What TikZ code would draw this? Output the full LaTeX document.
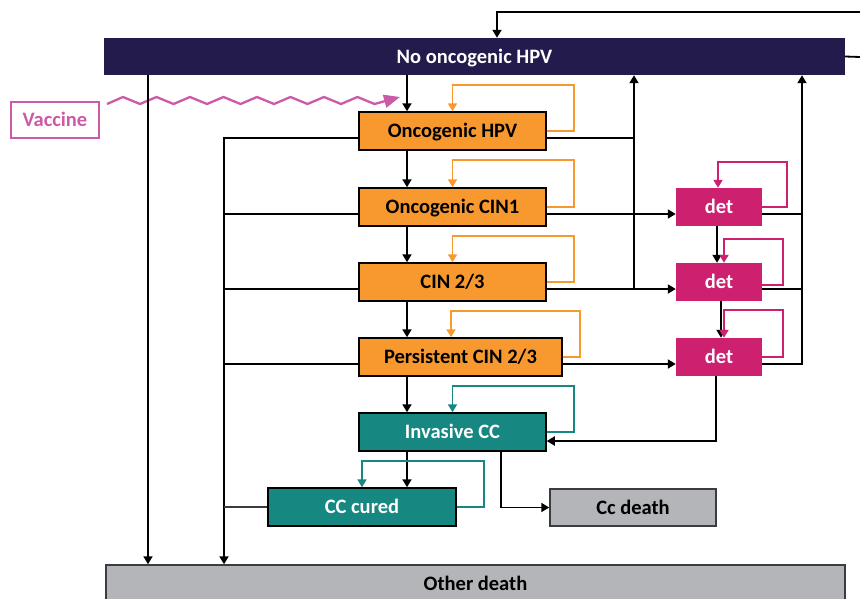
\documentclass[tikz,border=0pt]{standalone}
\usepackage{fontspec}
\setmainfont{Carlito}
\usetikzlibrary{arrows.meta}
\definecolor{navy}{HTML}{221B4B}
\definecolor{hpvorange}{HTML}{F7992F}
\definecolor{ccteal}{HTML}{178782}
\definecolor{detpink}{HTML}{CD2170}
\definecolor{deathgray}{HTML}{B4B5B9}
\definecolor{vacpink}{HTML}{CB5AA7}
\definecolor{edgegray}{HTML}{3A3C40}
\begin{document}
\begin{tikzpicture}[x=1pt,y=-1pt,
  lbl/.style={font=\bfseries\fontsize{20.5}{22}\selectfont,text height=15pt,text depth=2pt},
  box/.style={lbl,draw=black,line width=1.5pt,minimum height=38pt,inner sep=0pt},
  orangebox/.style={box,fill=hpvorange,text=black},
  tealbox/.style={box,fill=ccteal,text=white},
  graybox/.style={box,fill=deathgray,draw=edgegray,text=black},
  detbox/.style={lbl,fill=detpink,text=white,minimum width=86pt,minimum height=38pt,inner sep=0pt},
  tip/.style={-{Triangle[length=8pt,width=9pt]}},
  conn/.style={draw=black,line width=1.8pt},
  arr/.style={conn,tip},
  loopo/.style={draw=hpvorange,line width=1.8pt,tip},
  loopt/.style={draw=ccteal,line width=1.8pt,tip},
  loopd/.style={draw=detpink,line width=1.8pt,tip}]
\useasboundingbox (0,0) rectangle (860,598);

% states
\node[lbl,fill=navy,text=white,minimum width=741pt,minimum height=37pt,inner sep=0pt] (nohpv) at (474.5,56.5) {No oncogenic HPV};
\node[lbl,draw=vacpink,line width=2.5pt,text=vacpink,minimum width=88pt,minimum height=36pt,inner sep=0pt] (vaccine) at (55,120) {Vaccine};
\node[orangebox,minimum width=187pt] (ohpv) at (452.5,131) {Oncogenic HPV};
\node[orangebox,minimum width=187pt] (cin1) at (452.5,207) {Oncogenic CIN1};
\node[orangebox,minimum width=187pt] (cin23) at (452.5,282) {CIN 2/3};
\node[orangebox,minimum width=203pt] (pcin) at (460.5,357) {Persistent CIN 2/3};
\node[tealbox,minimum width=187pt] (icc) at (452.5,432) {Invasive CC};
\node[tealbox,minimum width=188pt] (cured) at (362,507) {CC cured};
\node[graybox,minimum width=166pt,minimum height=37pt] (ccdeath) at (633,507.5) {Cc death};
\node[graybox,minimum width=739pt] (other) at (475.5,584) {Other death};
\node[detbox] (det1) at (719,207) {det};
\node[detbox] (det2) at (719,282) {det};
\node[detbox] (det3) at (719,357) {det};

% column positions of the trunk lines
\coordinate (ax) at (148,0);
\coordinate (lx) at (224,0);
\coordinate (mx) at (407,0);
\coordinate (cx) at (501,0);
\coordinate (tx) at (497,0);
\coordinate (rx) at (634,0);
\coordinate (dx) at (802,0);
\coordinate (fb) at (860,12);
\coordinate (re) at (860,57);
\coordinate (zs) at (107,104);
\coordinate (zt) at (400,97);

% lines leaving the frame on the right
\draw[arr] (fb) -| (nohpv.north -| tx);
\draw[conn] (nohpv.east) -- (re);

% vaccine effect
\draw[draw=vacpink,line width=2.3pt,-{Triangle[length=16pt,width=13pt]}]
  (zs) \foreach \k in {0,...,7} { -- ({123+33.5*\k},97) -- ({140+33.5*\k},104) } -- (zt);

% progression down the main column
\draw[arr] (nohpv.south -| mx) -- (ohpv.north -| mx);
\draw[arr] (ohpv.south -| mx) -- (cin1.north -| mx);
\draw[arr] (cin1.south -| mx) -- (cin23.north -| mx);
\draw[arr] (cin23.south -| mx) -- (pcin.north -| mx);
\draw[arr] (pcin.south -| mx) -- (icc.north -| mx);
\draw[arr] (icc.south -| mx) -- (cured.north -| mx);
\draw[arr] (icc.south -| cx) |- (ccdeath.west);

% deaths from other causes
\draw[arr] (nohpv.south -| ax) -- (other.north -| ax);
\draw[arr] ([yshift=-7pt]ohpv.west) -| (other.north -| lx);
\draw[conn] ([yshift=-7pt]cin1.west) -- ([yshift=-7pt]cin1.west -| lx);
\draw[conn] ([yshift=-7pt]cin23.west) -- ([yshift=-7pt]cin23.west -| lx);
\draw[conn] ([yshift=-7pt]pcin.west) -- ([yshift=-7pt]pcin.west -| lx);
\draw[draw=edgegray,line width=1.4pt] (cured.west) -- (cured.west -| lx);

% regression and detection
\draw[arr] ([yshift=-7pt]ohpv.east) -| (nohpv.south -| rx);
\draw[conn] ([yshift=-7pt]cin23.east -| rx) -- ([yshift=-7pt]ohpv.east -| rx);
\draw[arr] ([yshift=-7pt]cin1.east) -- ([yshift=-7pt]cin1.east -| det1.west);
\draw[arr] ([yshift=-7pt]cin23.east) -- ([yshift=-7pt]cin23.east -| det2.west);
\draw[arr] ([yshift=-7pt]pcin.east) -- ([yshift=-7pt]pcin.east -| det3.west);
\draw[arr] ([yshift=-7pt]det3.east) -| (nohpv.south -| dx);
\draw[conn] ([yshift=-7pt]det1.east) -- ([yshift=-7pt]det1.east -| dx);
\draw[conn] ([yshift=-7pt]det2.east) -- ([yshift=-7pt]det2.east -| dx);
\draw[arr] ([xshift=-2pt]det1.south) -- ([xshift=-2pt]det2.north);
\draw[arr] ([xshift=2pt]det2.south) -- ([xshift=2pt]det2.south |- det3.north);
\draw[arr] ([xshift=-3pt]det3.south) |- ([yshift=-9pt]icc.east);

% staying in the same state
\draw[loopo] (ohpv.east) -- ++(27,0) |- ([yshift=26pt]ohpv.north) -- (ohpv.north);
\draw[loopo] (cin1.east) -- ++(27,0) |- ([yshift=27pt]cin1.north) -- (cin1.north);
\draw[loopo] (cin23.east) -- ++(27,0) |- ([yshift=26pt]cin23.north) -- (cin23.north);
\draw[loopo] (pcin.east) -- ++(17,0) |- ([xshift=-9.5pt,yshift=26pt]pcin.north) -- ([xshift=-9.5pt]pcin.north);
\draw[loopt] (icc.east) -- ++(27,0) |- ([yshift=26pt]icc.north) -- (icc.north);
\draw[loopt] (cured.east) -- ++(27,0) |- ([yshift=26pt]cured.north) -- (cured.north);
\draw[loopd] (det1.east) -- ++(25,0) |- ([xshift=-1pt,yshift=26pt]det1.north) -- ([xshift=-1pt]det1.north);
\draw[loopd] ([yshift=-3pt]det2.east) -- ++(21,0) |- ([xshift=5pt,yshift=24pt]det2.north) -- ([xshift=5pt]det2.north);
\draw[loopd] (det3.east) -- ++(21,0) |- ([xshift=5pt,yshift=28pt]det3.north) -- ([xshift=5pt]det3.north);
\end{tikzpicture}
\end{document}
